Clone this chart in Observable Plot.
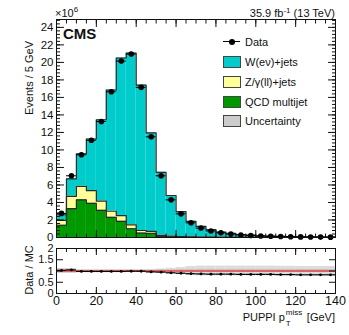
<!DOCTYPE html>
<html><head><meta charset="utf-8">
<script src="https://cdn.jsdelivr.net/npm/d3@7"></script>
<script src="https://cdn.jsdelivr.net/npm/@observablehq/plot@0.6"></script>
<style>
body{margin:0;background:#fff;}
#c{position:relative;width:349px;height:335px;font-family:"Liberation Sans",Arial,sans-serif;color:#111;overflow:hidden}
#c svg{position:absolute;left:0;top:0}
.abs{position:absolute;white-space:nowrap;line-height:1}
</style>
</head><body><div id="c"></div>
<script>
// ---- data ----
const binLow = [0,5,10,15,20,25,30,35,40,45,50,55,60,65,70,75,80,85,90,95,100,105,110,115,120,125,130,135];
const binWidth = 5;
// stacked MC components (×10^6 events / 5 GeV)
const qcd  = [1.4,3.3,4.3,3.9,3.1,2.3,1.85,1.0,0.5,0.46,0.12,0.08,0.05,0.03,0.02,0.015,0.01,0.008,0.006,0.005,0.004,0.003,0.003,0.002,0.002,0.001,0.001,0.001];
const zll  = [0.55,1.4,1.55,1.45,1.05,0.7,0.65,0.45,0.3,0.23,0.13,0.07,0.05,0.04,0.03,0.02,0.015,0.012,0.01,0.008,0.006,0.005,0.004,0.003,0.003,0.002,0.002,0.002];
const wenu = [0.65,2.0,3.7,5.9,9.3,13.85,18.0,19.6,16.6,11.25,7.2,4.65,2.85,1.78,1.22,0.865,0.595,0.44,0.324,0.247,0.19,0.152,0.123,0.095,0.075,0.062,0.052,0.042];
const dataVals = [2.75,7.05,9.45,11.1,13.25,16.65,20.15,20.95,17.15,11.5,7.05,4.3,2.7,1.68,1.08,0.75,0.53,0.39,0.29,0.22,0.17,0.135,0.11,0.085,0.068,0.055,0.045,0.038];
const ratioVals = [1.03,1.05,0.98,0.98,0.98,0.98,0.98,0.99,0.99,0.96,0.95,0.92,0.9,0.88,0.87,0.86,0.86,0.86,0.85,0.85,0.85,0.85,0.84,0.84,0.83,0.83,0.83,0.83];
const uncOuter = [0.1,0.1,0.05,0.05,0.05,0.05,0.05,0.05,0.05,0.06,0.09,0.12,0.16,0.2,0.22,0.22,0.22,0.22,0.22,0.22,0.22,0.22,0.21,0.21,0.2,0.2,0.2,0.2];
const uncInner = [0.09,0.09,0.04,0.04,0.04,0.04,0.04,0.04,0.04,0.04,0.05,0.05,0.06,0.07,0.07,0.07,0.07,0.07,0.07,0.07,0.07,0.07,0.07,0.07,0.07,0.07,0.07,0.07];
const xMajor = [0,20,40,60,80,100,120,140];
const xMinor = [0,5,10,15,20,25,30,35,40,45,50,55,60,65,70,75,80,85,90,95,100,105,110,115,120,125,130,135,140];
const yMajor = [0,2,4,6,8,10,12,14,16,18,20,22,24];
const rMajor = [0,0.5,1,1.5,2];
const rLabels = ["0","0.5","1","1.5","2"];

const colors = {w:"#00cccc", z:"#ffff99", qcd:"#009900", unc:"#cccccc"};
const lineCol = "#2b2b2b";

// ---- derived tables ----
const rows = binLow.map((lo,i)=>{
  const q = qcd[i], zq = q + zll[i], t = zq + wenu[i];
  return {lo, hi: lo+binWidth, mid: lo+binWidth/2, q, zq, t, d: dataVals[i], r: ratioVals[i],
          uo1: 1-uncOuter[i], uo2: 1+uncOuter[i], ui1: 1-uncInner[i], ui2: 1+uncInner[i]};
});
const outline = [];
for (const key of ["t","zq","q"]) {
  rows.forEach(r=>outline.push({x:r.lo, y:r[key], k:key}));
  outline.push({x:140, y:rows[rows.length-1][key], k:key});
}
const minorY = [];
for (let v=0; v<=24.9; v+=0.4) minorY.push(+v.toFixed(2));

const font = '"Liberation Sans", Arial, sans-serif';
function tickAx(axis, anchor, vals, len){
  return axis(vals, {anchor, tickSize:-len, fill:"none", label:null, stroke:"#111"});
}

const c = document.getElementById("c");

// ---- main panel ----
const main = Plot.plot({
  width:349, height:335, marginLeft:56, marginRight:14, marginTop:19, marginBottom:98,
  style:{fontFamily:font, fontSize:"12px", color:"#111", background:"transparent", overflow:"visible"},
  x:{domain:[0,140]}, y:{domain:[0,24.9]},
  marks:[
    Plot.rectY(rows,{x1:"lo", x2:"hi", y1:"zq", y2:"t", fill:colors.w}),
    Plot.rectY(rows,{x1:"lo", x2:"hi", y1:"q", y2:"zq", fill:colors.z}),
    Plot.rectY(rows,{x1:"lo", x2:"hi", y1:0, y2:"q", fill:colors.qcd}),
    Plot.line(outline,{x:"x", y:"y", z:"k", curve:"step-after", stroke:lineCol, strokeWidth:1.2}),
    Plot.ruleY(rows,{x1:"lo", x2:"hi", y:"d", stroke:"#000", strokeWidth:1}),
    Plot.dot(rows,{x:"mid", y:"d", r:2.8, fill:"#000", stroke:"none"}),
    Plot.frame({stroke:"#111", strokeWidth:1}),
    tickAx(Plot.axisX,"bottom",xMajor,7), tickAx(Plot.axisX,"bottom",xMinor,3.5),
    tickAx(Plot.axisX,"top",xMajor,7), tickAx(Plot.axisX,"top",xMinor,3.5),
    tickAx(Plot.axisY,"left",yMajor,8), tickAx(Plot.axisY,"left",minorY,4),
    tickAx(Plot.axisY,"right",yMajor,8), tickAx(Plot.axisY,"right",minorY,4),
    Plot.axisY(yMajor,{anchor:"left", tickSize:0, tickPadding:3, label:null, fontSize:11.5, tickFormat:d=>String(d)})
  ]
});
c.appendChild(main);

// ---- ratio panel ----
const ratio = Plot.plot({
  width:349, height:335, marginLeft:56, marginRight:14, marginTop:248, marginBottom:42,
  style:{fontFamily:font, fontSize:"12px", color:"#111", background:"transparent", overflow:"visible"},
  x:{domain:[0,140]}, y:{domain:[0,2]},
  marks:[
    Plot.rectY(rows,{x1:"lo", x2:"hi", y1:"uo1", y2:"uo2", fill:"#dcdcdc"}),
    Plot.rectY(rows,{x1:"lo", x2:"hi", y1:"ui1", y2:"ui2", fill:"#c4c4c4"}),
    Plot.ruleY([1],{stroke:"#ff0000", strokeWidth:1}),
    Plot.ruleY(rows,{x1:"lo", x2:"hi", y:"r", stroke:"#000", strokeWidth:1.2}),
    Plot.dot(rows,{x:"mid", y:"r", r:1.4, fill:"#000", stroke:"none"}),
    Plot.frame({stroke:"#111", strokeWidth:1}),
    tickAx(Plot.axisX,"bottom",xMajor,6), tickAx(Plot.axisX,"bottom",xMinor,3),
    tickAx(Plot.axisX,"top",xMajor,6), tickAx(Plot.axisX,"top",xMinor,3),
    tickAx(Plot.axisY,"left",rMajor,7), tickAx(Plot.axisY,"right",rMajor,7),
    Plot.axisY(rMajor,{anchor:"left", tickSize:0, tickPadding:3, label:null, fontSize:11, tickFormat:(d,i)=>rLabels[i]}),
    Plot.axisX(xMajor,{anchor:"bottom", tickSize:0, tickPadding:3, label:null, fontSize:12.5, tickFormat:d=>String(d)})
  ]
});
c.appendChild(ratio);

// ---- HTML text overlays ----
function addDiv(html, style){ const d=document.createElement("div"); d.className="abs"; d.innerHTML=html; Object.assign(d.style, style); c.appendChild(d); return d; }

addDiv('×10<span style="font-size:8px;position:relative;top:-5px">6</span>', {left:"55px", top:"8px", fontSize:"11px"});
addDiv('35.9 fb<span style="font-size:8px;position:relative;top:-4px">-1</span> (13 TeV)', {right:"14px", top:"8px", fontSize:"11px"});
addDiv('CMS', {left:"63px", top:"26px", fontSize:"15px", fontWeight:"bold"});
addDiv('Events / 5 GeV', {left:"29px", top:"78px", fontSize:"11px", transform:"translate(-50%,-50%) rotate(-90deg)"});
addDiv('Data / MC', {left:"29px", top:"270px", fontSize:"11px", transform:"translate(-50%,-50%) rotate(-90deg)"});
addDiv('PUPPI p<span style="position:relative;display:inline-block;width:19px;height:11px;vertical-align:top">'
  + '<span style="position:absolute;left:1px;top:-3px;font-size:8px">miss</span>'
  + '<span style="position:absolute;left:1px;top:8px;font-size:8px">T</span></span> [GeV]',
  {right:"14px", top:"312px", fontSize:"11px"});

// legend
const legendItems = [
  {label:"W(eν)+jets", fill:colors.w, y:56},
  {label:"Z/γ(ll)+jets", fill:colors.z, y:76},
  {label:"QCD multijet", fill:colors.qcd, y:96},
  {label:"Uncertainty", fill:colors.unc, y:115}
];
addDiv('', {left:"223px", top:"41px", width:"17px", height:"0", borderTop:"1px solid #000"});
addDiv('', {left:"229px", top:"38.5px", width:"6px", height:"6px", borderRadius:"50%", background:"#000"});
addDiv('Data', {left:"245px", top:"36.5px", fontSize:"11px"});
for (const it of legendItems){
  addDiv('', {left:"223px", top:it.y+"px", width:"16px", height:"10px", background:it.fill, border:"1px solid #444"});
  addDiv(it.label, {left:"245px", top:(it.y+1)+"px", fontSize:"11px"});
}
</script>
</body></html>
